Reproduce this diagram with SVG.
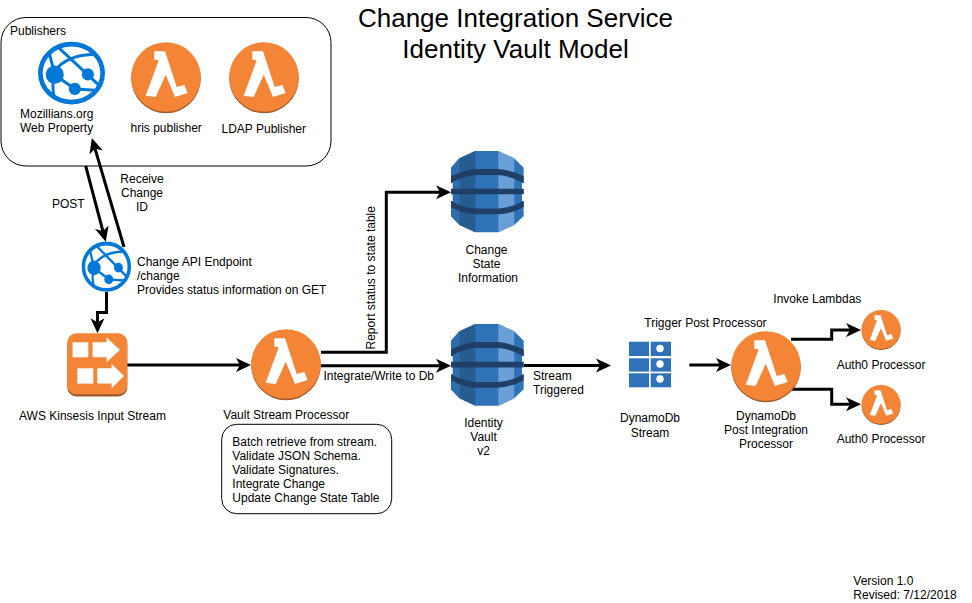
<svg xmlns="http://www.w3.org/2000/svg" xmlns:xlink="http://www.w3.org/1999/xlink" width="972" height="603" viewBox="0 0 972 603">
<style>
text{font-family:"Liberation Sans",Arial,Helvetica,sans-serif;font-size:12px;fill:#000}
.m{text-anchor:middle}
.title{font-size:26px;text-anchor:middle}
.conn{fill:none;stroke:#000;stroke-width:3;marker-end:url(#arrow)}
.box{fill:#fff;stroke:#000;stroke-width:1}
</style>
<defs>
<marker id="arrow" markerUnits="userSpaceOnUse" markerWidth="16" markerHeight="16" viewBox="0 0 16 16" refX="4" refY="8" orient="auto">
<path d="M15,8L0,1L4,8L0,15z" fill="#000"/>
</marker>
<g id="lambda">
<circle cx="35" cy="36.5" r="34.8" fill="#9d5a2b"/>
<circle cx="35" cy="35" r="34.8" fill="#f58536"/>
<path d="M23.3,9.3L34,9.3L45.7,45L53.3,43L56.7,51L44,55L34.7,32.7L24.7,55L14.7,53.7L27.7,18.3L23.3,17.7z" fill="#fff"/>
</g>
<g id="globe" fill="none" stroke="#0078d7">
<ellipse cx="100" cy="91.5" rx="93" ry="85" stroke-width="14"/>
<path d="M60,15L188,133M33,30L50,96M50,96Q40,125 48,160M50,96L110,138L172,142M50,85Q85,38 170,36" stroke-width="9"/>
<circle cx="50" cy="96" r="27" fill="#0078d7" stroke="none"/>
<circle cx="149" cy="95" r="18" fill="#0078d7" stroke="none"/>
<circle cx="110" cy="138" r="18" fill="#0078d7" stroke="none"/>
</g>
<g id="db">
<path d="M0,50L25,22L72,0L140,0L187,22L215,50L215,195L187,222L140,244L72,244L25,222L0,195z" fill="#2e73b8"/>
<path d="M25,22L72,0V244L25,222z" fill="#265c90"/>
<path d="M0,50L25,22V222L0,195z" fill="#2e6cab"/>
<path d="M140,0L187,22V222L140,244z" fill="#6a9fd5"/>
<path d="M0,76Q35,58 72,54H140Q180,58 215,76V96Q180,76 140,72H72Q35,76 0,96z" fill="#1f3f66"/>
<path d="M0,113H215V130H0z" fill="#1f3f66"/>
<path d="M0,150Q35,170 72,173H140Q180,170 215,150V168Q180,188 140,190H72Q35,188 0,168z" fill="#1f3f66"/>
<path d="M-1,96H5V113H-1zM-1,130H5V150H-1zM210,96H216V113H210zM210,130H216V150H210z" fill="#fff"/>
</g>
</defs>
<rect width="972" height="603" fill="#fff"/>

<g id="publishers-box"><rect class="box" x="1" y="17.5" width="330" height="148.5" rx="25" ry="25"/><text x="10" y="35">Publishers</text></g>

<g id="title"><text class="title" x="515.5" y="27">Change Integration Service</text><text class="title" x="515.5" y="57.5">Identity Vault Model</text></g>

<g id="connectors">
<path class="conn" d="M85.7,166L102.9,231.1"/>
<path class="conn" d="M124,247L95,148.6"/>
<path class="conn" d="M106.5,292V312.5H97.5V322.3"/>
<path class="conn" d="M127,365H240"/>
<path class="conn" d="M321,352.3H386.3V192.3H440"/>
<path class="conn" d="M321,365.7H440"/>
<path class="conn" d="M524,365.5H600"/>
<path class="conn" d="M689.3,365H720"/>
<path class="conn" d="M791,339.3H831.7V330H850"/>
<path class="conn" d="M791,389.3H831.7V404.3H850"/>
</g>

<g id="mozillians"><use href="#globe" transform="translate(38,42) scale(.335,.34)"/><text x="20" y="118">Mozillians.org</text><text x="20" y="132">Web Property</text></g>
<g id="hris-publisher"><use href="#lambda" x="131" y="42"/><text x="130.5" y="132">hris publisher</text></g>
<g id="ldap-publisher"><use href="#lambda" x="229" y="42"/><text x="221.5" y="132.5">LDAP Publisher</text></g>

<g id="post-label"><text x="52" y="208">POST</text></g>
<g id="receive-label"><text class="m" x="142" y="183">Receive</text><text class="m" x="142" y="197">Change</text><text class="m" x="142" y="211">ID</text></g>

<g id="change-api"><use href="#globe" transform="translate(81.7,241.7) scale(.2465,.273)"/><text x="137" y="265.5">Change API Endpoint</text><text x="137" y="279.5">/change</text><text x="137" y="293.5">Provides status information on GET</text></g>

<g id="kinesis">
<rect x="67.3" y="335.5" width="60" height="61" rx="9" fill="#9d5a2b"/>
<rect x="67.3" y="333.3" width="60" height="61" rx="9" fill="#f58536"/>
<g transform="translate(67.3,333.3)" fill="#fff">
<rect x="5.3" y="9" width="15.7" height="15"/>
<path d="M25.3,9H39.3V4.3L52.7,16.7L39.3,29V24H25.3z"/>
<rect x="10" y="35" width="16" height="15.3"/>
<path d="M30,35H44.3V30.7L56.7,42.7L44.3,55V50.3H30z"/>
</g>
<text x="19" y="420">AWS Kinsesis Input Stream</text>
</g>

<g id="vault-processor"><use href="#lambda" x="251" y="329"/><text x="223.3" y="419">Vault Stream Processor</text></g>
<g id="vault-notes">
<rect class="box" x="221.7" y="424.3" width="170" height="89.4" rx="15" ry="15"/>
<text x="232.3" y="445.7">Batch retrieve from stream.</text>
<text x="232.3" y="459.7">Validate JSON Schema.</text>
<text x="232.3" y="473.7">Validate Signatures.</text>
<text x="232.3" y="487.7">Integrate Change</text>
<text x="232.3" y="501.7">Update Change State Table</text>
</g>

<g id="report-label"><text transform="translate(374.8,349.5) rotate(-90)">Report status to state table</text></g>
<g id="integrate-label"><text x="323.5" y="380">Integrate/Write to Db</text></g>
<g id="stream-label"><text x="533" y="380">Stream</text><text x="533" y="394">Triggered</text></g>

<g id="change-state"><use href="#db" transform="translate(451,151) scale(.338,.333)"/><text class="m" x="486.5" y="253.7">Change</text><text class="m" x="486.5" y="267.7">State</text><text class="m" x="488" y="281.7">Information</text></g>
<g id="identity-vault"><use href="#db" transform="translate(451,324) scale(.338,.335)"/><text class="m" x="483.5" y="427">Identity</text><text class="m" x="483.5" y="441">Vault</text><text class="m" x="483.5" y="455">v2</text></g>

<g id="dynamodb-stream">
<g fill="#2e73b8">
<rect x="629" y="341.7" width="20" height="14.3"/><rect x="629" y="358.3" width="20" height="13.3"/><rect x="629" y="373.3" width="20" height="14"/>
<rect x="650.7" y="341.7" width="20.3" height="14.3"/><rect x="650.7" y="358.3" width="20.3" height="13.3"/><rect x="650.7" y="373.3" width="20.3" height="14"/>
</g>
<g fill="#fff"><circle cx="660" cy="348.5" r="3.7"/><circle cx="660" cy="364" r="3.7"/><circle cx="660" cy="379" r="3.7"/></g>
<text class="m" x="650" y="422.3">DynamoDb</text><text class="m" x="650" y="436.5">Stream</text>
</g>
<g id="trigger-label"><text x="644.3" y="327.3">Trigger Post Processor</text></g>
<g id="post-processor"><use href="#lambda" x="731" y="331"/><text class="m" x="766" y="420">DynamoDb</text><text class="m" x="766" y="434">Post Integration</text><text class="m" x="766" y="448">Processor</text></g>
<g id="invoke-label"><text x="773.3" y="303">Invoke Lambdas</text></g>
<g id="auth0-1"><use href="#lambda" transform="translate(861.5,310) scale(.56)"/><text x="836.7" y="369">Auth0 Processor</text></g>
<g id="auth0-2"><use href="#lambda" transform="translate(861.5,385) scale(.56)"/><text x="836.7" y="443">Auth0 Processor</text></g>
<g id="version"><text x="853.3" y="585">Version 1.0</text><text x="853.3" y="599">Revised: 7/12/2018</text></g>
</svg>
